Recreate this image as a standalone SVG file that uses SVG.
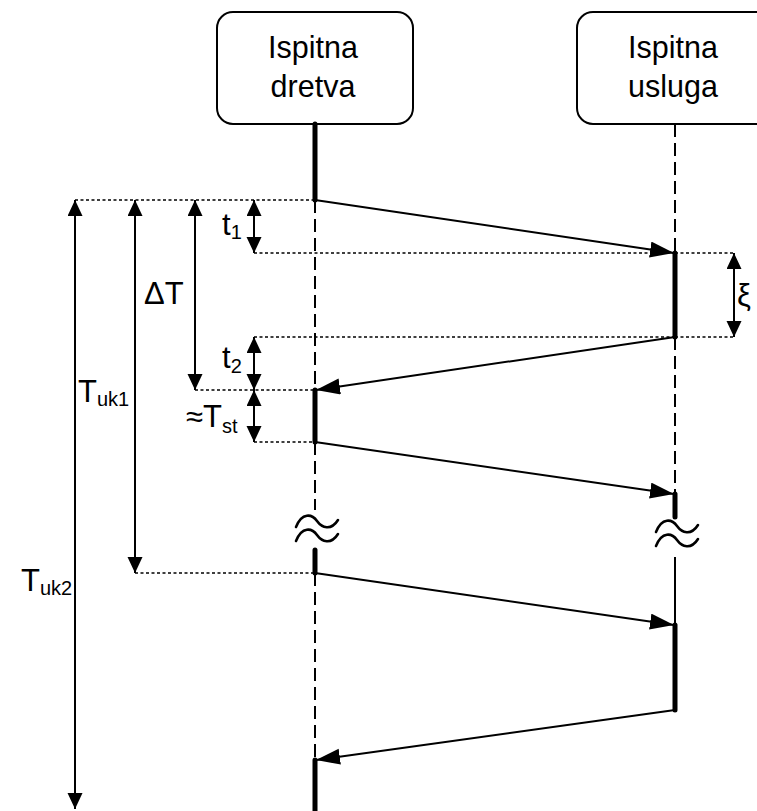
<svg xmlns="http://www.w3.org/2000/svg" width="757" height="811" viewBox="0 0 757 811">
<style>
.box{fill:#fff;stroke:#000;stroke-width:2}
.t{font-family:"Liberation Sans",Arial,sans-serif;fill:#000}
.name{font-size:30.5px;text-anchor:middle}
.lbl{font-size:31px}
.sub{font-size:20px}
.dash{stroke:#000;stroke-width:2;stroke-dasharray:13 6;fill:none}
.thick{stroke:#000;stroke-width:5;stroke-linecap:round;fill:none}
.thin{stroke:#000;stroke-width:2;fill:none}
.dot{stroke:#000;stroke-width:1.6;stroke-dasharray:3 2.5;fill:none}
.msg{stroke:#000;stroke-width:2;fill:none;marker-end:url(#ma)}
.dim{stroke:#000;stroke-width:2;fill:none;marker-start:url(#da);marker-end:url(#da)}
.wave{stroke:#000;stroke-width:2.6;fill:none;stroke-linecap:round}
</style>
<defs>
<marker id="ma" markerUnits="userSpaceOnUse" markerWidth="26" markerHeight="17" refX="24" refY="8" orient="auto" viewBox="0 0 26 17">
<path d="M0,0 L24,8 L0,16 z" fill="#000"/>
</marker>
<marker id="da" markerUnits="userSpaceOnUse" markerWidth="17" markerHeight="16" refX="16" refY="7.5" orient="auto-start-reverse" viewBox="0 0 17 16">
<path d="M0,0 L16,7.5 L0,15 z" fill="#000"/>
</marker>
</defs>

<g id="node-dretva">
<rect class="box" x="217" y="12" width="196" height="112" rx="16"/>
<text class="t name" x="313" y="58">Ispitna</text>
<text class="t name" x="313" y="97">dretva</text>
</g>
<g id="node-usluga">
<rect class="box" x="577" y="12" width="196" height="112" rx="16"/>
<text class="t name" x="673" y="58">Ispitna</text>
<text class="t name" x="673" y="97">usluga</text>
</g>

<g id="lifeline-dretva">
<line class="thick" x1="315" y1="124" x2="315" y2="200"/>
<line class="dash" x1="315" y1="200" x2="315" y2="390"/>
<line class="thick" x1="315" y1="390" x2="315" y2="442"/>
<line class="dash" x1="315" y1="442" x2="315" y2="510"/>
<path class="wave" d="M296,527 C302,512 312,514 317,521 C322,528 331,531 338,520"/>
<path class="wave" d="M296,541 C302,526 312,528 317,535 C322,542 331,545 338,534"/>
<line class="thick" x1="315" y1="550" x2="315" y2="573"/>
<line class="dash" x1="315" y1="573" x2="315" y2="760"/>
<line class="thick" x1="315" y1="760" x2="315" y2="815"/>
</g>

<g id="lifeline-usluga">
<line class="dash" x1="675" y1="124" x2="675" y2="253"/>
<line class="thick" x1="675" y1="253" x2="675" y2="337"/>
<line class="dash" x1="675" y1="337" x2="675" y2="494"/>
<line class="thick" x1="675" y1="494" x2="675" y2="517"/>
<path class="wave" d="M656,532 C662,517 672,519 677,526 C682,533 691,536 698,525"/>
<path class="wave" d="M656,546 C662,531 672,533 677,540 C682,547 691,550 698,539"/>
<line class="thin" x1="675" y1="557" x2="675" y2="625"/>
<line class="thick" x1="675" y1="625" x2="675" y2="710"/>
</g>

<g id="connectors">
<line class="msg" x1="315" y1="200" x2="674" y2="253"/>
<line class="msg" x1="675" y1="337" x2="316" y2="390"/>
<line class="msg" x1="315" y1="442" x2="674" y2="494"/>
<line class="msg" x1="315" y1="573" x2="674" y2="625"/>
<line class="msg" x1="675" y1="710" x2="316" y2="760"/>
</g>

<g id="guides">
<line class="dot" x1="75" y1="200" x2="315" y2="200"/>
<line class="dot" x1="254" y1="253" x2="675" y2="253"/>
<line class="dot" x1="675" y1="253" x2="734" y2="253"/>
<line class="dot" x1="254" y1="337" x2="675" y2="337"/>
<line class="dot" x1="675" y1="337" x2="734" y2="337"/>
<line class="dot" x1="195" y1="390" x2="315" y2="390"/>
<line class="dot" x1="254" y1="442" x2="315" y2="442"/>
<line class="dot" x1="135" y1="573" x2="315" y2="573"/>
</g>

<g id="dimensions">
<line class="dim" x1="75" y1="200" x2="75" y2="809"/>
<line class="dim" x1="135" y1="200" x2="135" y2="573"/>
<line class="dim" x1="195" y1="200" x2="195" y2="390"/>
<line class="dim" x1="254" y1="200" x2="254" y2="253"/>
<line class="dim" x1="254" y1="337" x2="254" y2="390"/>
<line class="dim" x1="254" y1="390" x2="254" y2="442"/>
<line class="dim" x1="734" y1="253" x2="734" y2="337"/>
</g>

<g id="labels">
<text class="t lbl" x="222" y="235">t<tspan class="sub" dy="4">1</tspan></text>
<text class="t lbl" x="222" y="368">t<tspan class="sub" dy="5">2</tspan></text>
<text class="t lbl" x="144" y="304">ΔT</text>
<text class="t lbl" x="78" y="402">T<tspan class="sub" dy="4">uk1</tspan></text>
<text class="t lbl" x="21" y="591">T<tspan class="sub" dy="4">uk2</tspan></text>
<text class="t lbl" x="186" y="427">≈T<tspan class="sub" dy="6">st</tspan></text>
<text class="t lbl" x="737" y="306">ξ</text>
</g>
</svg>
